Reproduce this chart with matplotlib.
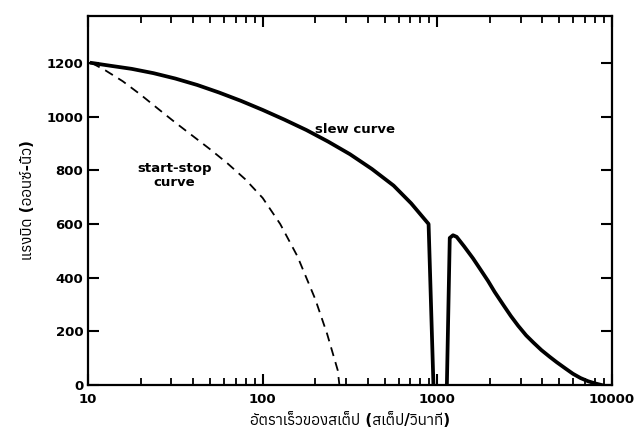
import matplotlib
matplotlib.use("Agg")
import matplotlib.pyplot as plt
from matplotlib.ticker import FixedLocator, LogLocator, NullFormatter, FixedFormatter
import numpy as np

plt.rcParams['font.family'] = ['DejaVu Sans', 'Anuphan']

# data
slew_hi_x = [10.5, 13.3, 17.8, 23.7, 31.6, 42.2, 56.2, 75, 100, 133, 178, 237, 316,
             422, 562, 708, 891, 950]
slew_hi_y = [1200, 1190, 1178, 1162, 1142, 1118, 1090, 1059, 1025, 989, 950, 907, 860,
             805, 743, 677, 600, 0]
slew_lo_x = [1134, 1178, 1230, 1290, 1422, 1600, 1738, 1950, 2128, 2400, 2636, 2900,
             3223, 3550, 3944, 4400, 4822, 5400, 5970, 6600, 7300, 8000, 8700]
slew_lo_y = [0, 548, 558, 552, 517, 472, 437, 388, 347, 296, 257, 221,
             185, 158, 130, 105, 85, 62, 42, 26, 14, 6, 0]
ss_x = [10.5, 12.6, 15.8, 20, 25.1, 31.6, 39.8, 50.1, 63.1, 79.4, 100, 126, 158, 200,
        234, 269, 275]
ss_y = [1200, 1172, 1132, 1082, 1030, 978, 928, 878, 825, 767, 697, 600, 480, 320,
        190, 55, 0]

yticks = [0, 200, 400, 600, 800, 1000, 1200]
xticks = [10, 100, 1000, 10000]
xticklabels = ['10', '100', '1000', '10000']
xlabel = 'อัตราเร็วของสเต็ป (สเต็ป/วินาที)'
ylabel = 'แรงบิด (ออนซ์-นิ้ว)'

fig = plt.figure(figsize=(6.34, 4.43), dpi=100)
ax = fig.add_axes([88/634, 1-385/443, (612-88)/634, (385-16)/443])

ax.plot(slew_hi_x, slew_hi_y, color='black', lw=2.7, solid_joinstyle='round')
ax.plot(slew_lo_x, slew_lo_y, color='black', lw=2.7, solid_joinstyle='round')
ax.plot(ss_x, ss_y, color='black', lw=1.3, dashes=(5, 3.5))

ax.set_xscale('log')
ax.set_xlim(10, 10000)
ax.set_ylim(0, 1375)
ax.xaxis.set_major_locator(FixedLocator(xticks))
ax.xaxis.set_major_formatter(FixedFormatter(xticklabels))
ax.xaxis.set_minor_locator(LogLocator(base=10, subs=np.arange(2, 10)))
ax.xaxis.set_minor_formatter(NullFormatter())
ax.set_yticks(yticks)

for s in ax.spines.values():
    s.set_linewidth(1.6)

ax.tick_params(axis='both', which='major', direction='in', length=8, width=1.5,
               top=True, right=True, labelsize=9.5)
ax.tick_params(axis='x', which='minor', direction='in', length=5, width=1.3, top=True)
ax.tick_params(axis='x', which='major', pad=6)
for lab in ax.get_xticklabels() + ax.get_yticklabels():
    lab.set_fontweight('bold')

ax.text(0.51, 0.692, 'slew curve', transform=ax.transAxes, ha='center', va='center',
        fontsize=9.5, fontweight='bold')
ax.text(0.165, 0.567, 'start-stop\ncurve', transform=ax.transAxes, ha='center', va='center',
        fontsize=9.5, fontweight='bold', linespacing=1.1)

ax.set_xlabel(xlabel, fontsize=11, fontweight='bold', labelpad=4)
ax.set_ylabel(ylabel, fontsize=11, fontweight='bold', labelpad=8)

fig.savefig('out.png', dpi=100)
